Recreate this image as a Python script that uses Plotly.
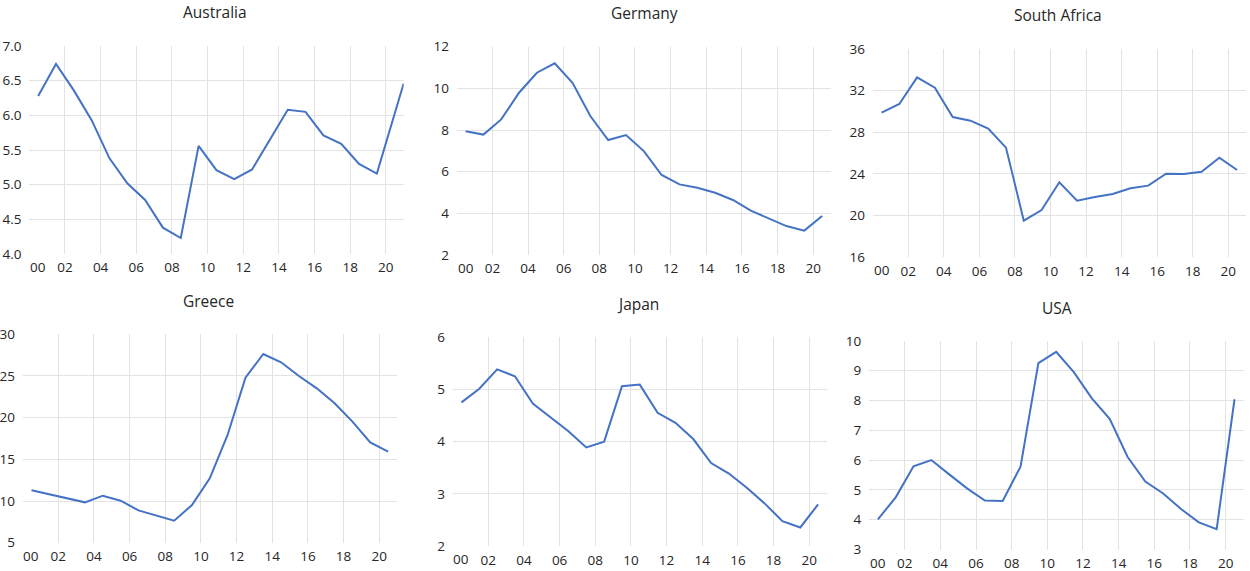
import plotly.graph_objects as go

# ---------------- data ----------------
years = list(range(2000, 2021))
tick_years = list(range(2002, 2021, 2))
tick_labels = [f"{y % 100:02d}" for y in tick_years]
first_label = "00"

# annual observations plotted at mid-year
dates = [f"{y}-07-01" for y in years]
australia_dates = dates[:-1] + ["2020-12-31"]

australia = [6.28, 6.74, 6.36, 5.93, 5.38, 5.02, 4.78, 4.38, 4.23, 5.56, 5.21,
             5.08, 5.22, 5.65, 6.08, 6.05, 5.71, 5.59, 5.30, 5.16, 6.46]
germany = [7.94, 7.78, 8.51, 9.79, 10.75, 11.20, 10.27, 8.67, 7.52, 7.76, 6.99,
           5.84, 5.39, 5.23, 4.99, 4.64, 4.13, 3.76, 3.39, 3.17, 3.87]
south_africa = [29.89, 30.72, 33.28, 32.29, 29.47, 29.12, 28.35, 26.53, 19.52, 20.54, 23.20,
                21.44, 21.79, 22.08, 22.62, 22.88, 24.03, 24.00, 24.22, 25.57, 24.38]
greece = [11.28, 10.80, 10.32, 9.84, 10.64, 10.04, 8.88, 8.28, 7.64, 9.52, 12.72,
          17.92, 24.80, 27.64, 26.64, 25.00, 23.52, 21.72, 19.52, 17.04, 15.92]
japan = [4.75, 5.01, 5.38, 5.25, 4.73, 4.46, 4.20, 3.89, 4.00, 5.06, 5.09,
         4.55, 4.36, 4.05, 3.59, 3.39, 3.12, 2.82, 2.48, 2.36, 2.80]
usa = [4.01, 4.75, 5.79, 6.00, 5.52, 5.05, 4.64, 4.63, 5.78, 9.25, 9.63,
       8.94, 8.07, 7.38, 6.11, 5.28, 4.88, 4.36, 3.91, 3.68, 8.04]

countries = ["Australia", "Germany", "South Africa", "Greece", "Japan", "USA"]
series = [australia, germany, south_africa, greece, japan, usa]
series_dates = [australia_dates, dates, dates, dates, dates, dates]

# y axis scales: (min, max, step, format)
y_scales = [(4, 7, 0.5, ".1f"), (2, 12, 2, "d"), (16, 36, 4, "d"),
            (5, 30, 5, "d"), (2, 6, 1, "d"), (3, 10, 1, "d")]

# ---------------- layout (pixels) ----------------
W, H = 1250, 571
# plot boxes: left, right, top, bottom
boxes = [(29.3, 403.7, 46.0, 254.0), (456.7, 831.1, 46.7, 255.0), (872.7, 1246.1, 49.0, 257.3),
         (22.6, 397.1, 334.3, 542.7), (452.6, 827.1, 337.0, 546.3), (869.0, 1243.5, 340.8, 549.5)]
title_pos = [(215, 11.5), (644, 13), (1058, 15), (208, 300.5), (638, 304), (1057, 307.5)]

LINE = "#4472C4"
GRID = "#E3E3E3"
TXT = "#262626"
FONT = "Open Sans"
TICK_SIZE = 13.5

fig = go.Figure()
layout = dict(width=W, height=H, margin=dict(l=0, r=0, t=0, b=0, autoexpand=False),
              paper_bgcolor="white", plot_bgcolor="white", showlegend=False,
              font=dict(family=FONT, size=13, color=TXT))
annotations = []
x_range = ["2000-01-01", "2021-01-01"]

for i, (name, vals, dts, ys, box, tp) in enumerate(zip(countries, series, series_dates,
                                                     y_scales, boxes, title_pos)):
    n = i + 1
    xs = "" if n == 1 else str(n)
    l, r, t, b = box
    xdom = [l / W, r / W]
    ydom = [1 - b / H, 1 - t / H]
    fig.add_trace(go.Scatter(x=dts, y=vals, mode="lines", xaxis="x" + xs, yaxis="y" + xs,
                             line=dict(color=LINE, width=2), hoverinfo="x+y"))
    ymin, ymax, step, fmt = ys
    nsteps = int(round((ymax - ymin) / step))
    yt = [ymin + k * step for k in range(nsteps + 1)]
    ytxt = [format(v, fmt) if fmt != "d" else str(int(v)) for v in yt]
    layout["xaxis" + xs] = dict(domain=xdom, anchor="y" + xs, type="date", range=x_range,
                                automargin=False,
                                tickmode="array", tickvals=[f"{y}-01-01" for y in tick_years],
                                ticktext=tick_labels, showgrid=True, gridcolor=GRID, gridwidth=1,
                                zeroline=False, showline=False, ticks="outside", ticklen=1,
                                tickcolor="rgba(0,0,0,0)", tickfont=dict(size=TICK_SIZE, color=TXT))
    layout["yaxis" + xs] = dict(domain=ydom, anchor="x" + xs, range=[ymin, ymax],
                                automargin=False,
                                tickmode="array", tickvals=yt, ticktext=ytxt,
                                showgrid=True, gridcolor=GRID, gridwidth=1, zeroline=False,
                                showline=False, ticks="outside", ticklen=4,
                                tickcolor="rgba(0,0,0,0)", tickfont=dict(size=TICK_SIZE, color=TXT))
    # first-year label sits under the first observation (no grid line there)
    annotations.append(dict(text=first_label, x=dts[0], y=0, xref="x" + xs, yref=f"y{xs} domain",
                            xanchor="center", yanchor="top", yshift=-2, showarrow=False,
                            font=dict(family=FONT, size=TICK_SIZE, color=TXT)))
    annotations.append(dict(text=name, x=tp[0] / W, y=1 - tp[1] / H, xref="paper", yref="paper",
                            xanchor="center", yanchor="middle", showarrow=False,
                            font=dict(family=FONT, size=15.5, color=TXT)))

layout["annotations"] = annotations
fig.update_layout(**layout)
fig.write_html("out.html", config={"displayModeBar": False},
               post_script="document.body.style.margin='0';document.body.style.overflow='hidden';")
